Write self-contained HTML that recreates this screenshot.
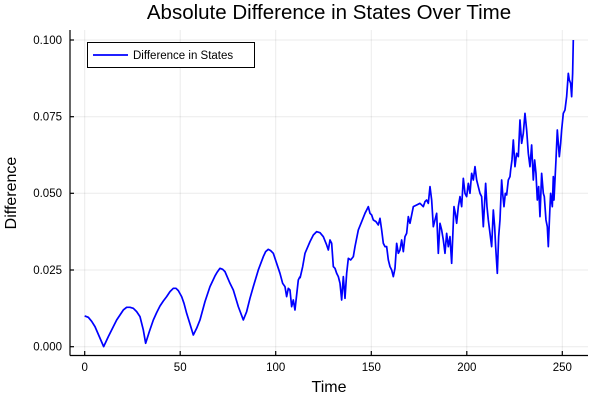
<!DOCTYPE html>
<html><head><style>
body{margin:0;background:#fff;}
svg{display:block;font-family:"Liberation Sans",sans-serif;}
</style></head><body>
<svg width="600" height="400" viewBox="0 0 600 400">
<rect width="600" height="400" fill="#fff"/>
<text x="329" y="19" font-size="20.5" text-anchor="middle" fill="#000">Absolute Difference in States Over Time</text>
<g stroke="#000" stroke-opacity="0.08" stroke-width="1">
<line x1="84.7" y1="30" x2="84.7" y2="355"/>
<line x1="180.2" y1="30" x2="180.2" y2="355"/>
<line x1="275.7" y1="30" x2="275.7" y2="355"/>
<line x1="371.3" y1="30" x2="371.3" y2="355"/>
<line x1="466.8" y1="30" x2="466.8" y2="355"/>
<line x1="562.3" y1="30" x2="562.3" y2="355"/>
<line x1="70" y1="346.7" x2="588" y2="346.7"/>
<line x1="70" y1="270" x2="588" y2="270"/>
<line x1="70" y1="193.3" x2="588" y2="193.3"/>
<line x1="70" y1="116.7" x2="588" y2="116.7"/>
<line x1="70" y1="40" x2="588" y2="40"/>
</g>
<g stroke="#000" stroke-width="1.2" fill="none">
<line x1="70" y1="30" x2="70" y2="355.5"/>
<line x1="70" y1="355.5" x2="588" y2="355.5"/>
<line x1="84.7" y1="355" x2="84.7" y2="351"/><line x1="180.2" y1="355" x2="180.2" y2="351"/><line x1="275.7" y1="355" x2="275.7" y2="351"/><line x1="371.3" y1="355" x2="371.3" y2="351"/><line x1="466.8" y1="355" x2="466.8" y2="351"/><line x1="562.3" y1="355" x2="562.3" y2="351"/>
<line x1="70" y1="346.7" x2="74" y2="346.7"/><line x1="70" y1="270" x2="74" y2="270"/><line x1="70" y1="193.3" x2="74" y2="193.3"/><line x1="70" y1="116.7" x2="74" y2="116.7"/><line x1="70" y1="40" x2="74" y2="40"/>
</g>
<g font-size="11.5" fill="#000" text-anchor="middle">
<text x="84.7" y="371">0</text><text x="180.2" y="371">50</text><text x="275.7" y="371">100</text><text x="371.3" y="371">150</text><text x="466.8" y="371">200</text><text x="562.3" y="371">250</text>
</g>
<g font-size="11.5" fill="#000" text-anchor="end">
<text x="62" y="350.5">0.000</text><text x="62" y="274">0.025</text><text x="62" y="197">0.050</text><text x="62" y="120.5">0.075</text><text x="62" y="44">0.100</text>
</g>
<text x="329" y="392" font-size="16" text-anchor="middle">Time</text>
<text transform="translate(16,193) rotate(-90)" font-size="16" text-anchor="middle">Difference</text>
<g transform="translate(0,20) scale(0.3333)">
<polyline fill="none" stroke="#0000ff" stroke-width="1.7" vector-effect="non-scaling-stroke" stroke-linejoin="round" points="254,888 265,892 275,904 285,920 298,950 311,980 318,965 325,950 340,920 350,900 360,885 370,870 380,862 390,862 400,865 410,875 420,890 430,930 437,970 448,935 460,900 470,878 480,858 490,843 500,830 510,815 520,805 528,805 535,812 545,830 552,850 560,880 570,912 580,945 590,925 600,900 615,845 630,800 645,768 652,756 660,745 668,748 675,755 690,790 700,810 715,860 730,900 740,875 750,835 760,800 775,750 790,710 797,695 805,688 812,692 820,700 830,730 835,745 840,760 848,790 855,800 860,830 865,805 870,810 875,860 880,840 885,870 895,780 900,770"/>
</g>
<g transform="translate(300,20) scale(0.3333)">
<polyline fill="none" stroke="#0000ff" stroke-width="1.7" vector-effect="non-scaling-stroke" stroke-linejoin="round" points="0,775 8,740 15,700 30,665 40,645 50,635 60,638 70,650 80,675 85,690 90,660 95,670 100,740 105,745 110,760 115,770 120,790 125,840 130,770 135,835 140,760 145,715 152,720 160,710 165,680 175,630 185,605 195,580 200,570 205,560 210,580 215,585 220,600 228,605 235,615 240,595 245,630 250,670 255,680 260,680 265,720 270,740 275,750 280,770 285,745 290,670 295,700 300,690 305,660 310,695 315,650 320,640 325,590 330,610 340,560 350,555 360,550 370,560 375,545 380,540 385,550 390,500 395,540 400,620 405,600 410,580 415,700 420,610 425,630 430,660 435,700 440,640 445,680 450,650 455,730 462,560 466,580 470,610 475,560 480,530 485,560 490,475 495,520 500,530 505,490 510,520 515,460 520,480 525,440 530,480 535,500 540,520 545,530 550,620 557,490 561,560 565,600 570,640 575,680 580,570 584,620 587,680 592,760 596,650 600,600 605,480 608,520 612,560 616,520 620,525 625,480 630,470 632,450 636,420 640,360 645,440 650,400 655,410 660,300 665,370 670,340 675,280 680,330 685,400 690,440 695,375 700,480 704,420 708,460 712,540 716,500 720,590 725,460 730,520 733,530 738,600 742,620 745,680 750,560 752,520 757,560 760,470 762,540 765,480 768,420 772,330 778,410 782,370 785,330 790,280 795,270 800,230 805,160 808,180 812,190 815,230 818,160 820,60"/>
</g>
<rect x="87.5" y="42.5" width="167" height="25" fill="#fff" stroke="#000" stroke-width="1"/>
<line x1="93" y1="55" x2="128" y2="55" stroke="#0000ff" stroke-width="1.7"/>
<text x="133" y="59" font-size="11.5">Difference in States</text>
</svg>
</body></html>
